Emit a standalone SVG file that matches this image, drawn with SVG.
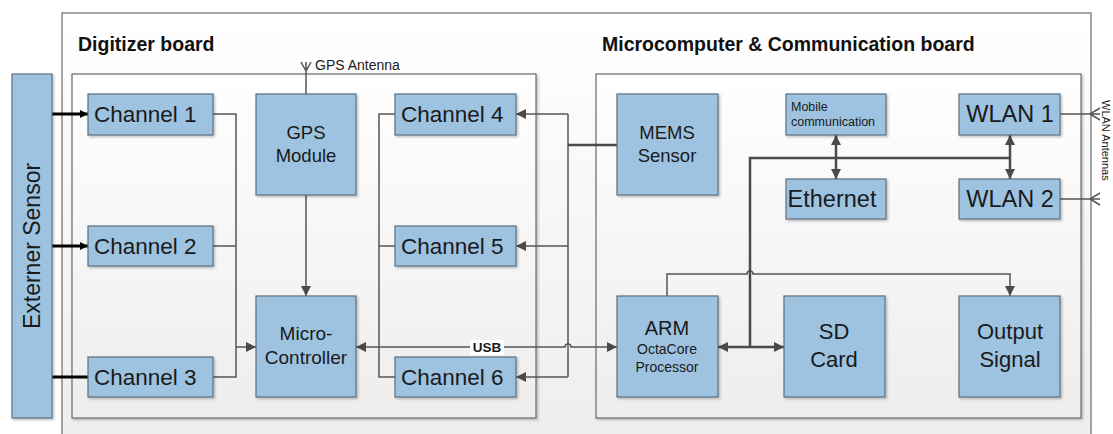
<svg xmlns="http://www.w3.org/2000/svg" width="1113" height="434" viewBox="0 0 1113 434">
<defs>
<linearGradient id="bg" x1="0" y1="0" x2="0" y2="1">
<stop offset="0" stop-color="#ffffff"/>
<stop offset="1" stop-color="#ededed"/>
</linearGradient>
<filter id="sh" x="-10%" y="-10%" width="130%" height="130%">
<feDropShadow dx="1.5" dy="1.5" stdDeviation="0.8" flood-color="#000" flood-opacity="0.25"/>
</filter>
<marker id="ar" viewBox="0 0 10 10" refX="10" refY="5" markerWidth="10" markerHeight="10" markerUnits="userSpaceOnUse" orient="auto-start-reverse">
<path d="M0,0 L10,5 L0,10 z" fill="#4a4a4a"/>
</marker>
<marker id="arb" viewBox="0 0 10 10" refX="10" refY="5" markerWidth="8" markerHeight="9" markerUnits="userSpaceOnUse" orient="auto">
<path d="M0,0 L10,5 L0,10 z" fill="#000"/>
</marker>
</defs>
<style>
.board{fill:url(#bg);stroke:#6a6a6a;stroke-width:1.2}
.node rect{fill:#9dc3e1;stroke:#5e6e7e;stroke-width:1.2;filter:url(#sh)}
.t{font-family:"Liberation Sans",Arial,sans-serif;fill:#1a1a1a}
.title{font-family:"Liberation Sans",Arial,sans-serif;font-weight:bold;font-size:19.5px;fill:#111}
.c{fill:none;stroke:#555;stroke-width:1.5}
.k{fill:none;stroke:#4a4a4a;stroke-width:2.5}
.e{fill:none;stroke:#000;stroke-width:3}
</style>

<rect class="board" x="62" y="13" width="1029" height="440"/>
<rect class="board" x="72" y="74" width="464" height="344" filter="url(#sh)"/>
<rect class="board" x="596" y="74" width="485" height="344" filter="url(#sh)"/>
<text class="title" x="78" y="51">Digitizer board</text>
<text class="title" x="602" y="51">Microcomputer &amp; Communication board</text>

<g id="connectors">
<path class="e" d="M52,114 H88" marker-end="url(#arb)"/>
<path class="e" d="M52,246 H88" marker-end="url(#arb)"/>
<path class="e" d="M52,377 H100" marker-end="url(#arb)"/>
<path class="c" d="M213,114 H236 V377 H213 M213,246 H236"/>
<path class="c" d="M236,347 H256" marker-end="url(#ar)"/>
<path class="c" d="M306,195 V296" marker-end="url(#ar)"/>
<path class="c" d="M306,94 V62 M301,62 L306,71 L311,62" stroke-width="1.2"/>
<path class="c" d="M395,114 H379 V377 H395 M379,246 H395"/>
<path class="c" d="M356,347 H565 a3,3 0 0 1 6,0 H617" marker-start="url(#ar)" marker-end="url(#ar)"/>
<path class="k" d="M617,145 H568"/>
<path class="c" d="M568,114 V377"/>
<path class="c" d="M568,114 H516" marker-end="url(#ar)"/>
<path class="c" d="M568,246 H516" marker-end="url(#ar)"/>
<path class="c" d="M568,377 H516" marker-end="url(#ar)"/>
<path class="c" d="M667,296 V274 H747 a3,3 0 0 1 6,0 H1010 V296" marker-end="url(#ar)"/>
<path class="k" d="M718,347 H784" marker-start="url(#ar)" marker-end="url(#ar)"/>
<path class="k" d="M750,347 V158 H1010"/>
<path class="k" d="M1010,135 V179" stroke-width="2" marker-start="url(#ar)" marker-end="url(#ar)"/>
<path class="k" d="M836,135 V179" stroke-width="2" marker-start="url(#ar)" marker-end="url(#ar)"/>
<path class="c" d="M1060,114 H1100 M1100,108 L1090,114 L1100,120" stroke-width="1.2"/>
<path class="c" d="M1060,199 H1100 M1100,193 L1090,199 L1100,205" stroke-width="1.2"/>
<rect x="470" y="340" width="34" height="15" fill="#fff"/>
<text class="t" x="487" y="352" font-size="13.5" font-weight="bold" text-anchor="middle" fill="#000">USB</text>
<text class="t" x="315" y="70" font-size="14">GPS Antenna</text>
<text class="t" transform="translate(1102,100) rotate(90)" font-size="11">WLAN Antennas</text>
</g>

<g id="externer-sensor" class="node"><rect x="12" y="74" width="40" height="344"/>
<text class="t" transform="translate(40,246) rotate(-90)" font-size="23" text-anchor="middle">Externer Sensor</text></g>

<g id="channel1" class="node"><rect x="88" y="94" width="125" height="41"/><text class="t" x="94" y="122" font-size="22.5">Channel 1</text></g>
<g id="channel2" class="node"><rect x="88" y="226" width="125" height="40"/><text class="t" x="94" y="254" font-size="22.5">Channel 2</text></g>
<g id="channel3" class="node"><rect x="88" y="357" width="125" height="40"/><text class="t" x="94" y="385" font-size="22.5">Channel 3</text></g>

<g id="gps" class="node"><rect x="256" y="94" width="100" height="101"/>
<text class="t" font-size="18.5" text-anchor="middle"><tspan x="306" y="139">GPS</tspan><tspan x="306" y="162">Module</tspan></text></g>
<g id="micro" class="node"><rect x="256" y="296" width="100" height="101"/>
<text class="t" font-size="19" text-anchor="middle"><tspan x="306" y="340">Micro-</tspan><tspan x="306" y="364">Controller</tspan></text></g>

<g id="channel4" class="node"><rect x="395" y="94" width="121" height="41"/><text class="t" x="401" y="122" font-size="22.5">Channel 4</text></g>
<g id="channel5" class="node"><rect x="395" y="226" width="121" height="40"/><text class="t" x="401" y="254" font-size="22.5">Channel 5</text></g>
<g id="channel6" class="node"><rect x="395" y="357" width="121" height="40"/><text class="t" x="401" y="385" font-size="22.5">Channel 6</text></g>

<g id="mems" class="node"><rect x="617" y="94" width="101" height="101"/>
<text class="t" font-size="18.5" text-anchor="middle"><tspan x="667" y="139">MEMS</tspan><tspan x="667" y="162">Sensor</tspan></text></g>
<g id="arm" class="node"><rect x="617" y="296" width="101" height="101"/>
<text class="t" font-size="20" text-anchor="middle" x="667" y="335">ARM</text>
<text class="t" font-size="14" text-anchor="middle"><tspan x="667" y="354">OctaCore</tspan><tspan x="667" y="372">Processor</tspan></text></g>

<g id="mobile" class="node"><rect x="786" y="94" width="100" height="41"/>
<text class="t" font-size="12.5"><tspan x="791" y="111">Mobile</tspan><tspan x="791" y="126">communication</tspan></text></g>
<g id="ethernet" class="node"><rect x="786" y="179" width="100" height="40"/><text class="t" x="832" y="207" font-size="23.5" text-anchor="middle">Ethernet</text></g>
<g id="wlan1" class="node"><rect x="959" y="94" width="101" height="41"/><text class="t" x="1010" y="122" font-size="23.5" text-anchor="middle">WLAN 1</text></g>
<g id="wlan2" class="node"><rect x="959" y="179" width="101" height="40"/><text class="t" x="1010" y="207" font-size="23.5" text-anchor="middle">WLAN 2</text></g>

<g id="sdcard" class="node"><rect x="784" y="296" width="101" height="101"/>
<text class="t" font-size="22" text-anchor="middle"><tspan x="834" y="339">SD</tspan><tspan x="834" y="367">Card</tspan></text></g>
<g id="output" class="node"><rect x="959" y="296" width="101" height="101"/>
<text class="t" font-size="22" text-anchor="middle"><tspan x="1010" y="339">Output</tspan><tspan x="1010" y="367">Signal</tspan></text></g>
</svg>
